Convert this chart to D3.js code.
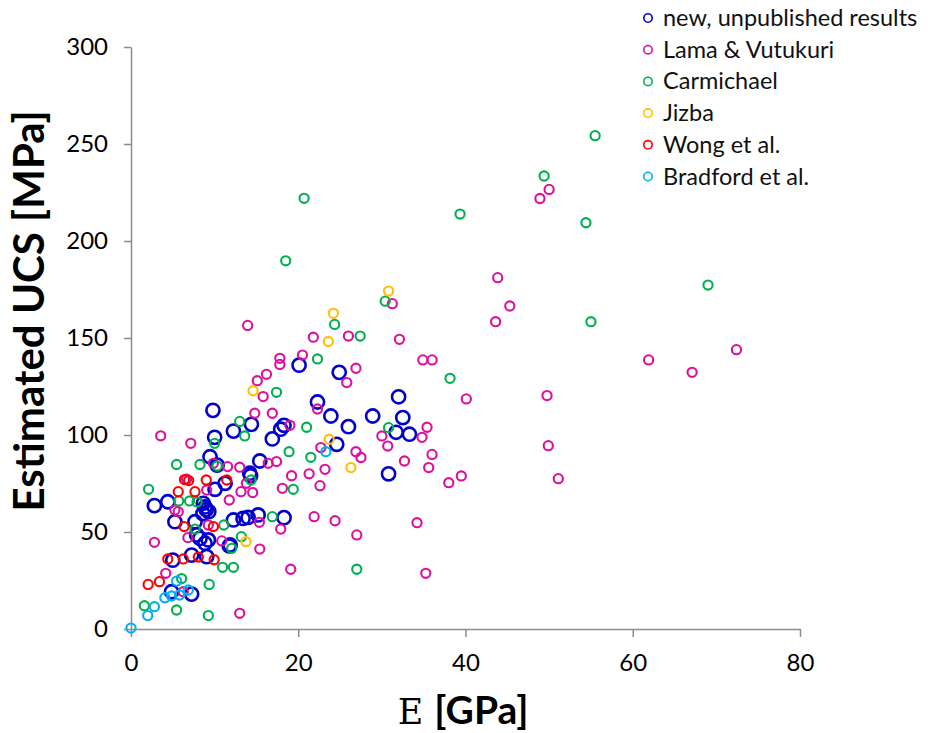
<!DOCTYPE html>
<html>
<head>
<meta charset="utf-8">
<script src="https://cdn.jsdelivr.net/npm/d3@7"></script>
<style>
  body { margin: 0; background: #fff; }
  text { font-family: Lato, "Open Sans", sans-serif; }
</style>
</head>
<body>
<div id="chart"></div>
<script>
// series data, [E (GPa), UCS (MPa)]
var newResults = [[2.8,63.6],[4.4,65.6],[5.25,55.3],[7.65,55.3],[8.65,64.8],[8.85,62.9],[9.0,61.5],[9.3,60.5],[8.6,59.5],
  [9.45,88.8],[9.8,112.7],[10,98.8],[10.3,84.5],[10.05,72],[11.25,75.1],[12.25,102],[14.4,105.5],[14.3,79],[14.2,80.3],
  [15.4,86.6],[16.9,98],[17.9,103],[18.3,105],[20.1,136],[22.3,117],[23.9,109.8],[24.9,132.3],[24.6,95.2],[26,104.3],
  [28.9,109.8],[30.8,80],[31.7,101.4],[32,119.7],[32.5,109],[33.3,100.4],[12.25,56.2],[13.4,57],[14.0,57.5],[15.2,58.8],
  [18.3,57.4],[11.85,43.3],[11.75,42.8],[8.25,46.7],[9.25,45.9],[8.85,44.2],[7.85,48.5],[7.25,38.1],[9.05,37.3],
  [5.0,35.5],[4.85,19.2],[7.25,18]];
var lamaVutukuri = [[3.55,99.6],[7.15,95.7],[9.85,85.4],[11.55,83.7],[13,83.4],[16.4,85.4],[17.4,86.3],[9.05,71.6],
  [6.65,77.2],[11.75,66.5],[13.15,70.8],[14.55,70.3],[13.8,75.1],[5.25,61.3],[5.65,60.5],[9.25,53.6],[15.35,55],
  [15.4,41.2],[2.8,44.7],[6.8,47.1],[10.85,45.4],[4.15,28.7],[6.25,19.2],[13,8.1],[13.95,156.5],[15.1,128],[16.2,131.3],
  [15.8,119.8],[14.8,111.2],[16.9,111.2],[17.8,139.5],[17.8,136.4],[20.5,141.2],[19,105],[21.8,150.4],[26,151],
  [25.8,127],[26.9,134.4],[22.3,113.4],[22.7,93.5],[26.9,91.4],[27.5,88.4],[23.2,82.3],[21.3,80],[19.2,79],[18.1,72.5],
  [22.6,73.9],[21.9,57.9],[24.4,55.8],[17.9,51.5],[27,48.5],[19.1,30.8],[30,99.5],[30.7,94.3],[32.7,86.6],[31.25,167.7],
  [32.1,149.3],[34.9,138.7],[36,138.7],[35.4,104],[34.8,98.8],[36,90],[35.6,83.2],[39.5,78.9],[38,75.4],[34.2,54.8],
  [35.25,28.7],[40.1,118.6],[43.85,181.1],[45.3,166.5],[43.6,158.4],[48.9,221.9],[50,226.6],[49.75,120.3],[49.9,94.5],
  [51.1,77.5],[61.9,138.7],[67.1,132.3],[72.4,144]];
var carmichael = [[20.7,222],[18.5,189.8],[30.4,169],[24.35,157],[27.4,151],[22.3,139.2],[17.4,122],[13,107],[13.6,99.5],
  [10,95.7],[5.45,84.8],[8.25,84.8],[10.3,84],[2.1,72],[5.7,66],[7.0,66],[7.9,65.5],[14.35,76.8],[7.65,51.5],[11.1,53.6],
  [16.9,57.9],[13.2,47.6],[12.05,41.6],[10.95,31.8],[12.25,31.8],[6.05,26],[9.35,23],[1.6,12],[5.45,9.8],[9.25,6.9],
  [27,30.8],[19.4,72],[18.9,91.4],[21.5,88.5],[21,104],[30.8,103.8],[38.15,129.2],[39.35,213.9],[49.4,233.5],
  [55.5,254.3],[54.4,209.4],[55,158.4],[69,177.3]];
var jizba = [[30.8,174.2],[24.2,162.7],[23.6,148.2],[14.6,122.8],[23.7,97.8],[26.3,83.2],[13.75,45]];
var wong = [[6.4,77],[6.9,76.5],[9.0,76.8],[11.45,76.8],[5.65,70.8],[7.65,70.8],[6.35,52.8],[9.85,52.8],[4.4,36.1],
  [6.25,36.1],[8.05,37.1],[9.95,35.7],[2.05,23],[3.4,24.4]];
var bradford = [[0,0.5],[2,6.9],[2.8,11.5],[4.05,16.1],[4.85,17],[5.8,17.5],[6.85,20.1],[5.45,24.7],[23.3,91.4]];

var seriesNames = ["new, unpublished results", "Lama & Vutukuri", "Carmichael", "Jizba", "Wong et al.", "Bradford et al."];
var seriesData = [newResults, lamaVutukuri, carmichael, jizba, wong, bradford];
var seriesColors = ["#0000CC", "#DD0F9C", "#00B050", "#FFC000", "#FF0000", "#00B0F0"];

var xTicks = [0, 20, 40, 60, 80];
var yTicks = [0, 50, 100, 150, 200, 250, 300];

var svgWidth = 928;
var svgHeight = 733;

var svg = d3.select("#chart")
  .append("svg")
  .attr("width", svgWidth)
  .attr("height", svgHeight);

var xScale = d3.scaleLinear().domain([0, 80]).range([131, 800]);
var yScale = d3.scaleLinear().domain([0, 300]).range([629, 47]);

var axisColor = "#8c8c8c";

// axes
var xAxis = svg.append("g")
  .attr("transform", "translate(0, 629)")
  .call(d3.axisBottom(xScale).tickValues(xTicks).tickSize(8).tickPadding(17).tickSizeOuter(0));
var yAxis = svg.append("g")
  .attr("transform", "translate(131, 0)")
  .call(d3.axisLeft(yScale).tickValues(yTicks).tickSize(7).tickPadding(16).tickSizeOuter(0));

[xAxis, yAxis].forEach(function(ax) {
  ax.select(".domain").attr("stroke", axisColor).attr("stroke-width", 1.5);
  ax.selectAll(".tick line").attr("stroke", axisColor).attr("stroke-width", 1.5);
  ax.selectAll(".tick text")
    .attr("fill", "#000")
    .style("font-size", "24px")
    .style("font-family", "Lato, sans-serif");
});

// points
seriesData.forEach(function(data, i) {
  var big = i === 0;
  svg.append("g")
    .selectAll("circle")
    .data(data)
    .enter()
    .append("circle")
    .attr("cx", d => xScale(d[0]))
    .attr("cy", d => yScale(d[1]))
    .attr("r", big ? 6.6 : 4.6)
    .attr("fill", "none")
    .attr("stroke", seriesColors[i])
    .attr("stroke-width", big ? 2.6 : 2.1);
});

// legend
var legend = svg.append("g").attr("transform", "translate(648, 18)");
seriesNames.forEach(function(name, i) {
  var row = legend.append("g").attr("transform", "translate(0," + (i * 31.7) + ")");
  row.append("circle")
    .attr("r", 4.2)
    .attr("fill", "none")
    .attr("stroke", seriesColors[i])
    .attr("stroke-width", 1.6);
  row.append("text")
    .attr("x", 15)
    .attr("y", 8)
    .style("font-size", "23.5px")
    .attr("fill", "#111")
    .text(name);
});

// axis titles
svg.append("text")
  .attr("transform", "translate(44, 311) rotate(-90)")
  .attr("text-anchor", "middle")
  .style("font-size", "42px")
  .style("font-weight", "bold")
  .text("Estimated UCS [MPa]");

var xTitle = svg.append("text")
  .attr("x", 463)
  .attr("y", 724)
  .attr("text-anchor", "middle")
  .style("font-size", "39px");
xTitle.append("tspan")
  .style("font-family", "'DejaVu Serif', 'Liberation Serif', serif")
  .style("font-size", "35px")
  .text("E ");
xTitle.append("tspan")
  .style("font-weight", "bold")
  .text("[GPa]");
</script>
</body>
</html>
